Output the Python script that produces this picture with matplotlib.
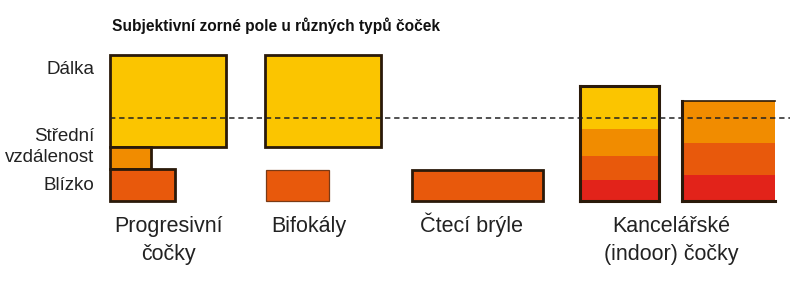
import matplotlib
matplotlib.use("Agg")
import matplotlib.pyplot as plt

plt.rcParams['font.family'] = ['Liberation Sans', 'DejaVu Sans']

# ---- data (x = horizontal field, y = viewing-distance zone height) ----
title = "Subjektivní zorné pole u různých typů čoček"
categories = ["Progresivní\nčočky", "Bifokály", "Čtecí brýle", "Kancelářské\n(indoor) čočky"]
category_centers = [168, 309, 472, 671]
zone_labels = ["Dálka", "Střední\nvzdálenost", "Blízko"]
zone_label_y = [132, 54, 15]

# segments: lens index, left, width, bottom, height, colour key
seg_lens   = [0, 0, 0, 1, 1, 2, 3, 3, 3, 3, 4, 4, 4]
seg_left   = [110, 110, 110, 265, 266, 412, 580, 580, 580, 580, 682, 682, 682]
seg_width  = [116, 41, 65, 116, 63, 131, 79, 79, 79, 79, 93, 93, 93]
seg_bottom = [54, 32, 0, 54, 0, 0, 72, 45, 21, 0, 58, 26, 0]
seg_height = [92, 22, 32, 92, 31, 31, 43, 27, 24, 21, 42, 32, 26]
seg_color  = ["far", "mid", "near", "far", "near", "near",
              "far", "mid", "near", "close", "mid", "near", "close"]
seg_edge   = ["dark", "dark", "dark", "dark", "thin", "dark",
              None, None, None, None, None, None, None]

# outlines drawn around whole stacks (office lenses)
stack_left   = [580, 682]
stack_width  = [79, 93]
stack_top    = [115, 100]
stack_sides  = ["lrtb", "ltb"]

midline_y = 83
midline_x = [110, 790]

colors = {"far": "#FBC500", "mid": "#F18C00", "near": "#E8590C", "close": "#E2231A"}
edges = {"dark": "#2A1A0A", "thin": "#7A3A15"}

fig = plt.figure(figsize=(7.9, 2.9), dpi=100)
ax = fig.add_axes([0, 0, 1, 1])
ax.set_xlim(0, 790)
ax.set_ylim(-89, 201)
ax.axis("off")

for i in range(len(seg_left)):
    e = seg_edge[i]
    ax.bar(seg_left[i], seg_height[i], width=seg_width[i], bottom=seg_bottom[i],
           align="edge", color=colors[seg_color[i]],
           edgecolor=edges[e] if e else "none",
           linewidth=(2.0 if e == "dark" else 0.9) if e else 0, zorder=2)

for l, w, t, s in zip(stack_left, stack_width, stack_top, stack_sides):
    r = l + w
    if "l" in s:
        ax.plot([l, l], [0, t], color=edges["dark"], lw=2.2, zorder=3, solid_capstyle="projecting")
    if "r" in s:
        ax.plot([r, r], [0, t], color=edges["dark"], lw=2.2, zorder=3, solid_capstyle="projecting")
    if "t" in s:
        ax.plot([l, r], [t, t], color=edges["dark"], lw=2.2 if "r" in s else 1.2, zorder=3,
                solid_capstyle="projecting")
    if "b" in s:
        ax.plot([l, r], [0, 0], color=edges["dark"], lw=2.2, zorder=3, solid_capstyle="projecting")

ax.plot(midline_x, [midline_y, midline_y], color="#222222", lw=1.1,
        linestyle=(0, (3.5, 2.5)), zorder=4)

ax.text(112, 175, title, fontsize=11.2, fontweight="bold", ha="left", va="center", color="#111111")

for lab, y in zip(zone_labels, zone_label_y):
    ax.text(94, y, lab, fontsize=13.5, ha="right", va="center", color="#222222", linespacing=1.3)

line_step = 28
for lab, x in zip(categories, category_centers):
    for k, line in enumerate(lab.split("\n")):
        ax.text(x, -31 - k * line_step, line, fontsize=15.5, ha="center", va="baseline",
                color="#222222")

fig.savefig("out.png", dpi=100)
